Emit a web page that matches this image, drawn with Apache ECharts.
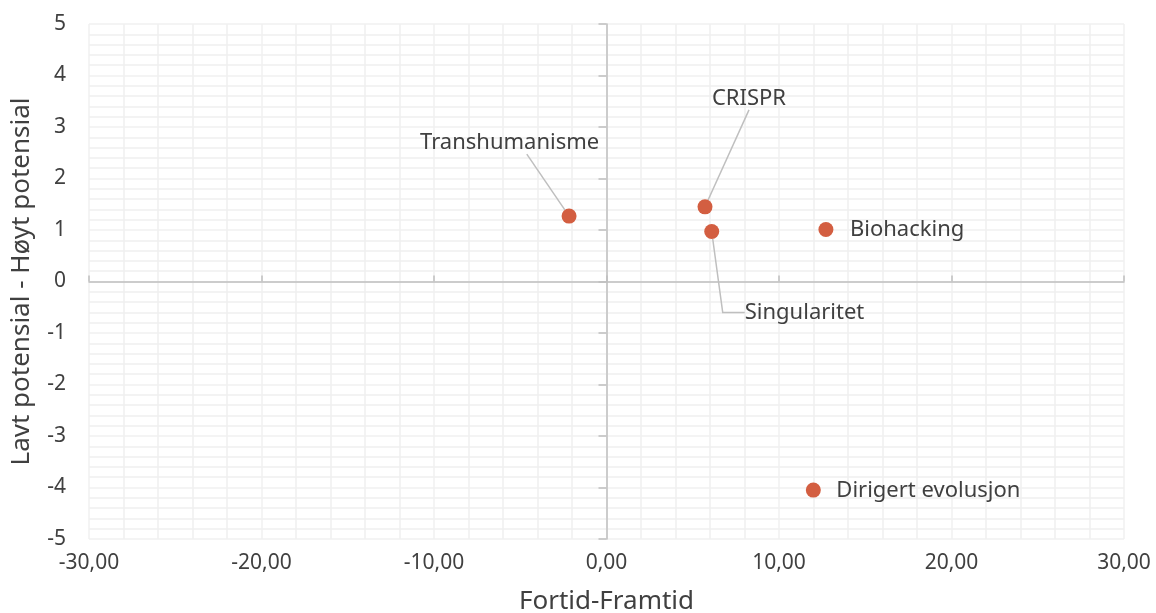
<!DOCTYPE html>
<html>
<head>
<meta charset="utf-8">
<script src="https://cdn.jsdelivr.net/npm/echarts@6/dist/echarts.min.js"></script>
<style>
  html, body { margin: 0; padding: 0; background: #fff; }
  #chart { width: 1156px; height: 613px; }
</style>
</head>
<body>
<div id="chart"></div>
<script>
// data
var names = ["Transhumanisme", "CRISPR", "Singularitet", "Biohacking", "Dirigert evolusjon"];
var xValues = [-2.17, 5.71, 6.1, 12.72, 11.99];
var yValues = [1.27, 1.45, 0.97, 1.01, -4.05];
var xTicks = [-30, -20, -10, 0, 10, 20, 30];
var yTicks = [-5, -4, -3, -2, -1, 0, 1, 2, 3, 4, 5];

// where each label sits relative to its dot (pixels)
// tail: trailing spaces so the leader line leaves from under the text
var labelPlace = [
  { dx: -149, dy: -73, align: "left", line: true, len: 0, tail: "      " },
  { dx: 44, dy: -108, align: "center", line: true, len: 0, tail: "" },
  { dx: 33, dy: 81, align: "left", line: true, len: 22, tail: "" },
  { dx: 24, dy: 0, align: "left", line: false, len: 0, tail: "" },
  { dx: 23, dy: 1, align: "left", line: false, len: 0, tail: "" }
];

var textColor = "#404040";
var gridColor = "#f0f0f0";
var axisColor = "#bfbfbf";
var font = "Noto Sans";

var points = [];
for (var i = 0; i < names.length; i++) {
  points.push({
    name: names[i],
    value: [xValues[i], yValues[i]],
    label: { formatter: names[i] + labelPlace[i].tail },
    labelLine: {
      show: labelPlace[i].line,
      length2: labelPlace[i].len,
      lineStyle: { color: axisColor, width: 1.5 }
    }
  });
}

function fmtX(v) {
  return v.toFixed(2).replace(".", ",");
}

var chart = echarts.init(document.getElementById("chart"));
chart.setOption({
  animation: false,
  textStyle: { fontFamily: font },
  grid: { left: 89, right: 32, top: 24, bottom: 74, outerBoundsMode: "none" },
  xAxis: [
    {
      type: "value",
      min: xTicks[0],
      max: xTicks[xTicks.length - 1],
      interval: 10,
      name: "Fortid-Framtid",
      nameLocation: "middle",
      nameGap: 50,
      nameTextStyle: { fontSize: 26, color: textColor, fontFamily: font },
      axisLine: { show: false, onZero: false },
      axisTick: { show: false },
      axisLabel: { fontSize: 21, color: textColor, margin: 14, formatter: fmtX, fontFamily: font },
      splitLine: { show: true, lineStyle: { color: gridColor, width: 1.5 } },
      minorTick: { show: false, splitNumber: 5 },
      minorSplitLine: { show: true, lineStyle: { color: gridColor, width: 1.5 } }
    },
    {
      type: "value",
      min: xTicks[0],
      max: xTicks[xTicks.length - 1],
      interval: 10,
      axisLine: { show: true, onZero: true, onZeroAxisIndex: 0, lineStyle: { color: axisColor, width: 1.5 } },
      axisTick: { show: true, length: 6, lineStyle: { color: axisColor, width: 1.5 } },
      axisLabel: { show: false },
      splitLine: { show: false }
    }
  ],
  yAxis: [
    {
      type: "value",
      min: yTicks[0],
      max: yTicks[yTicks.length - 1],
      interval: 1,
      name: "Lavt potensial - Høyt potensial",
      nameLocation: "middle",
      nameGap: 54,
      nameTextStyle: { fontSize: 26, color: textColor, fontFamily: font },
      axisLine: { show: false, onZero: false },
      axisTick: { show: false },
      axisLabel: { fontSize: 21, color: textColor, margin: 23, fontFamily: font },
      splitLine: { show: true, lineStyle: { color: gridColor, width: 1.5 } },
      minorTick: { show: false, splitNumber: 5 },
      minorSplitLine: { show: true, lineStyle: { color: gridColor, width: 1.5 } }
    },
    {
      type: "value",
      min: yTicks[0],
      max: yTicks[yTicks.length - 1],
      interval: 1,
      position: "left",
      axisLine: { show: true, onZero: true, onZeroAxisIndex: 0, lineStyle: { color: axisColor, width: 1.5 } },
      axisTick: { show: true, length: 8, lineStyle: { color: axisColor, width: 1.5 } },
      axisLabel: { show: false },
      splitLine: { show: false }
    }
  ],
  series: [
    {
      type: "scatter",
      xAxisIndex: 0,
      yAxisIndex: 0,
      symbolSize: 15,
      itemStyle: { color: "#d35e41", opacity: 1 },
      label: {
        show: true,
        fontSize: 22,
        color: textColor,
        fontFamily: font
      },
      labelLayout: function (params) {
        var p = labelPlace[params.dataIndex];
        var cx = params.rect.x + params.rect.width / 2;
        var cy = params.rect.y + params.rect.height / 2;
        return {
          x: cx + p.dx,
          y: cy + p.dy,
          align: p.align,
          verticalAlign: "middle"
        };
      },
      data: points
    }
  ]
});
</script>
</body>
</html>
